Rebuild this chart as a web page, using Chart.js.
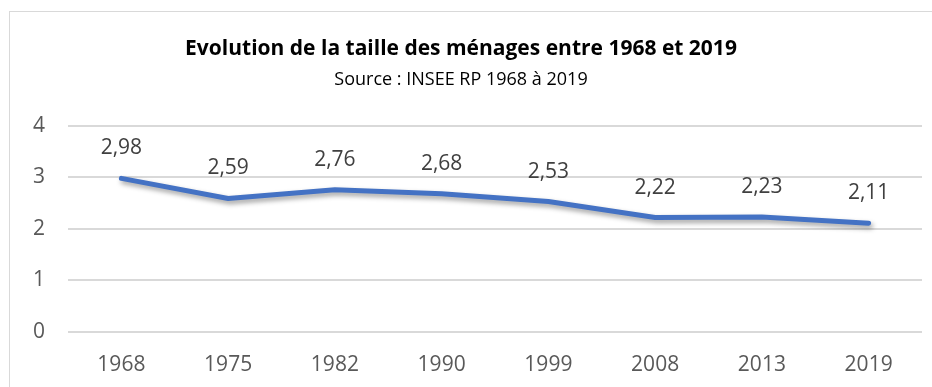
<!DOCTYPE html>
<html lang="fr">
<head>
<meta charset="utf-8">
<title>Taille des ménages</title>
<script src="https://cdn.jsdelivr.net/npm/chart.js@4/dist/chart.umd.min.js"></script>
<style>
  html, body { margin: 0; padding: 0; background: #fff; }
  #wrap { position: relative; width: 932px; height: 387px; overflow: hidden; }
  #cadre { position: absolute; left: 9px; top: 11px; width: 960px; height: 420px; border: 1px solid #d9d9d9; box-sizing: border-box; }
  canvas { position: absolute; left: 0; top: 0; }
</style>
</head>
<body>
<div id="wrap">
  <div id="cadre"></div>
  <canvas id="graphique" width="932" height="387"></canvas>
</div>
<script>
// Recensements et nombre moyen de personnes par ménage
const annees = ['1968', '1975', '1982', '1990', '1999', '2008', '2013', '2019'];
const tailleMenages = [2.98, 2.59, 2.76, 2.68, 2.53, 2.22, 2.23, 2.11];
const graduations = [0, 1, 2, 3, 4];

const police = "'Open Sans', 'Noto Sans', sans-serif";

// Ombre portée sous la courbe
const ombreCourbe = {
  id: 'ombreCourbe',
  beforeDatasetDraw(chart) {
    const ctx = chart.ctx;
    ctx.save();
    ctx.shadowColor = 'rgba(0,0,0,0.38)';
    ctx.shadowBlur = 5;
    ctx.shadowOffsetX = 2;
    ctx.shadowOffsetY = 3;
  },
  afterDatasetDraw(chart) {
    chart.ctx.restore();
  }
};

// Valeurs affichées au-dessus de chaque point
const etiquettes = {
  id: 'etiquettes',
  afterDatasetsDraw(chart) {
    const ctx = chart.ctx;
    const meta = chart.getDatasetMeta(0);
    ctx.save();
    ctx.font = '21px ' + police;
    ctx.fillStyle = '#404040';
    ctx.textAlign = 'center';
    ctx.textBaseline = 'middle';
    meta.data.forEach((pt, i) => {
      const txt = tailleMenages[i].toFixed(2).replace('.', ',');
      ctx.fillText(txt, pt.x, pt.y - 30);
    });
    ctx.restore();
  }
};

new Chart(document.getElementById('graphique'), {
  type: 'line',
  data: {
    labels: annees,
    datasets: [{
      data: tailleMenages,
      borderColor: '#4472c4',
      borderWidth: 5,
      borderCapStyle: 'round',
      borderJoinStyle: 'round',
      pointRadius: 0,
      tension: 0,
      fill: false
    }]
  },
  options: {
    responsive: false,
    animation: false,
    layout: { padding: { left: 0, right: 10, top: 0, bottom: 0 } },
    plugins: {
      legend: { display: false },
      tooltip: { enabled: false },
      title: {
        display: true,
        text: 'Evolution de la taille des ménages entre 1968 et 2019',
        color: '#000',
        font: { family: police, size: 21, weight: 'bold', lineHeight: 1.2 },
        padding: { top: 36, bottom: 8 }
      },
      subtitle: {
        display: true,
        text: 'Source : INSEE RP 1968 à 2019',
        color: '#000',
        font: { family: police, size: 18, lineHeight: 1.2 },
        padding: { top: 0, bottom: 35 }
      }
    },
    scales: {
      x: {
        offset: true,
        grid: { display: false, drawTicks: false },
        border: { display: false },
        ticks: { color: '#595959', font: { family: police, size: 21 }, padding: 20, maxRotation: 0 },
        afterFit(scale) { scale.height = 55; }
      },
      y: {
        min: 0,
        max: 4,
        afterBuildTicks(scale) { scale.ticks = graduations.map(v => ({ value: v })); },
        grid: { color: '#d9d9d9', lineWidth: 2, drawTicks: false },
        border: { display: false },
        ticks: { color: '#595959', font: { family: police, size: 21 }, padding: 23 },
        afterFit(scale) { scale.width = 68; }
      }
    }
  },
  plugins: [ombreCourbe, etiquettes]
});
</script>
</body>
</html>
